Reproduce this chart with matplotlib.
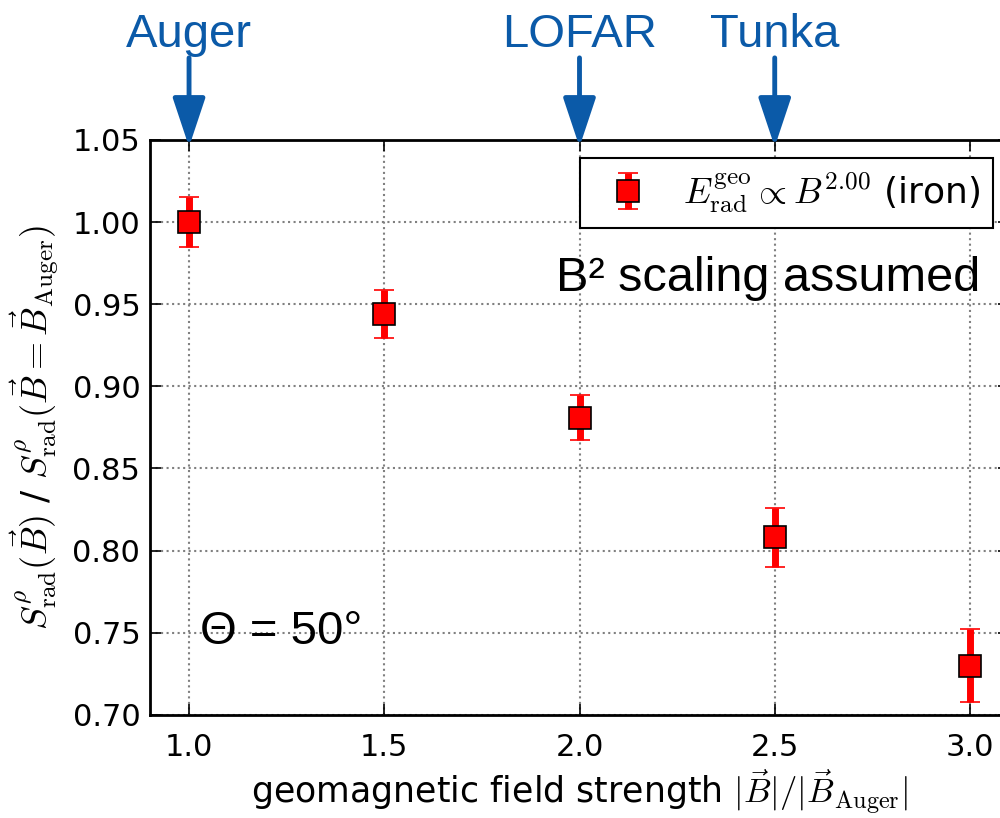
import numpy as np
import matplotlib
matplotlib.use('Agg')
import matplotlib.pyplot as plt

# data
field_ratio = [1.0, 1.5, 2.0, 2.5, 3.0]
signal_ratio = [1.000, 0.944, 0.881, 0.808, 0.730]
signal_err = [0.0155, 0.0147, 0.0137, 0.018, 0.022]
experiments = ['Auger', 'LOFAR', 'Tunka']
experiment_pos = [1.0, 2.0, 2.5]

plt.rcParams['mathtext.fontset'] = 'cm'
plt.rcParams['font.family'] = 'DejaVu Sans'

fig = plt.figure(figsize=(10, 8.18), dpi=100)
ax = fig.add_axes([0.15, 0.126, 0.859, 0.703])
ax_h = 575.0  # axes height in pixels

ax.errorbar(field_ratio, signal_ratio, yerr=signal_err, fmt='s',
            color='red', ecolor='red', mec='black', mew=1.2, ms=16,
            elinewidth=5, capsize=7, capthick=2,
            label=r'$E^{\rm geo}_{\rm rad} \propto B^{2.00}$ (iron)')

ax.set_xlim(0.9, 3.1)
ax.set_ylim(0.70, 1.05)
ax.set_xticks([1.0, 1.5, 2.0, 2.5, 3.0])
ax.set_yticks([0.70, 0.75, 0.80, 0.85, 0.90, 0.95, 1.00, 1.05])
ax.xaxis.set_major_formatter(matplotlib.ticker.FormatStrFormatter('%.1f'))
ax.yaxis.set_major_formatter(matplotlib.ticker.FormatStrFormatter('%.2f'))
ax.tick_params(direction='in', top=True, right=True, length=8, width=1.2,
               labelsize=22)
ax.tick_params(axis='y', pad=7)
ax.tick_params(axis='x', pad=13)
ax.grid(True, linestyle=':', color='grey', linewidth=1.5)
for s in ax.spines.values():
    s.set_linewidth(2)

ax.set_xlabel(r'geomagnetic field strength $|\vec{B}|/|\vec{B}_{\rm Auger}|$',
              fontsize=25, labelpad=4)
ax.set_ylabel(r'$S^{\rho}_{\rm rad}(\vec{B})$ / $S^{\rho}_{\rm rad}(\vec{B}=\vec{B}_{\rm Auger})$',
              fontsize=26, labelpad=8)

leg = ax.legend(loc='upper right', fontsize=26, numpoints=1, fancybox=False,
                framealpha=1, borderpad=0.35, handletextpad=0.5,
                bbox_to_anchor=(1.002, 1.0))
leg.get_frame().set_edgecolor('black')
leg.get_frame().set_linewidth(1.5)

blue = '#0B5AA8'
for name, xp in zip(experiments, experiment_pos):
    ax.annotate('', xy=(xp, 1.0 - 7 / ax_h), xycoords=('data', 'axes fraction'),
                xytext=(xp, 1.0 + 82 / ax_h), textcoords=('data', 'axes fraction'),
                arrowprops=dict(arrowstyle='-|>,head_width=1.0,head_length=3.0',
                                color=blue, lw=3.5, shrinkA=0, shrinkB=0),
                annotation_clip=False)
    ax.text(xp, 1.0 + 93 / ax_h, name, transform=ax.get_xaxis_transform(),
            ha='center', va='baseline', fontsize=34, color=blue,
            family='Liberation Sans', clip_on=False)

fig.text(0.768, 0.66, 'B² scaling assumed', fontsize=35,
         family='Liberation Sans', ha='center', va='center')
fig.text(0.281, 0.227, 'Θ = 50°', fontsize=34,
         family='Liberation Sans', ha='center', va='center')

fig.savefig('out.png', dpi=100)
